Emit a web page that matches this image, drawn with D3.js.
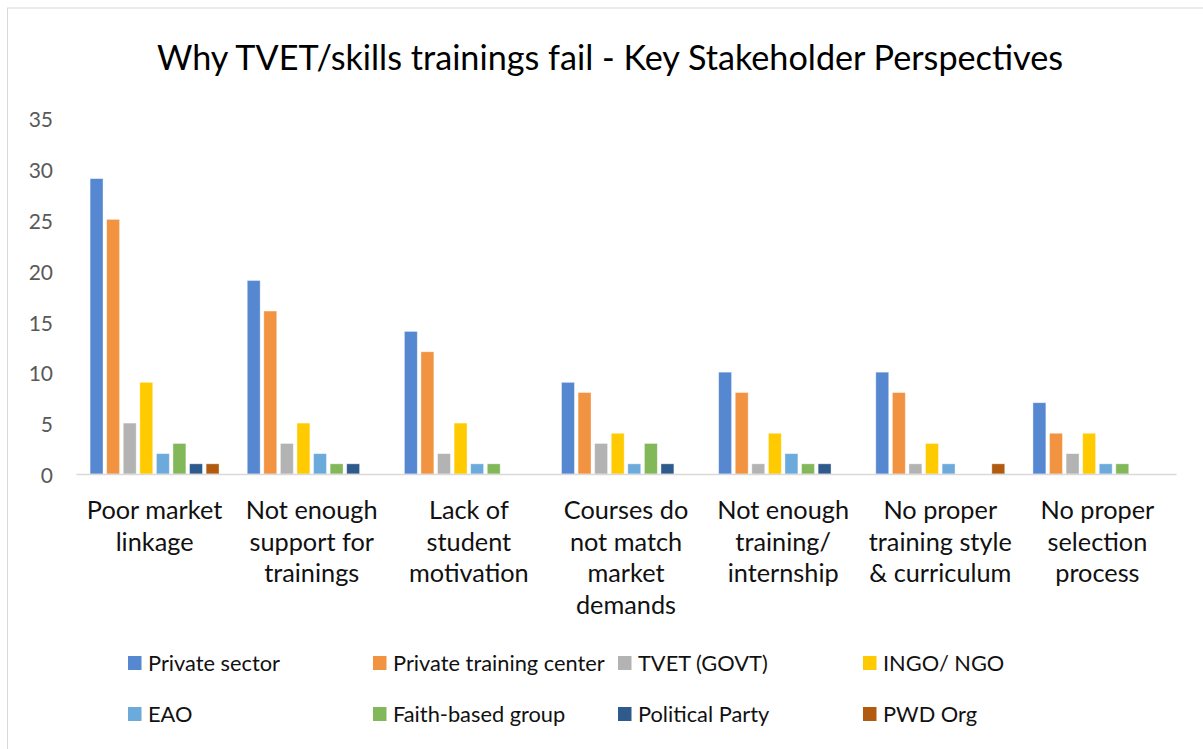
<!DOCTYPE html>
<html>
<head>
<meta charset="utf-8">
<script src="https://cdn.jsdelivr.net/npm/d3@7"></script>
<style>
  html, body { margin: 0; padding: 0; background: #fff; }
  svg { display: block; font-family: Lato, 'Open Sans', sans-serif; }
</style>
</head>
<body>
<svg id="chart" width="1203" height="749"></svg>
<script>
// ─── Data ─────────────────────────────────────────
const categories = [
  ['Poor market', 'linkage'],
  ['Not enough', 'support for', 'trainings'],
  ['Lack of', 'student', 'motivation'],
  ['Courses do', 'not match', 'market', 'demands'],
  ['Not enough', 'training/', 'internship'],
  ['No proper', 'training style', '& curriculum'],
  ['No proper', 'selection', 'process']
];
const seriesNames = ['Private sector', 'Private training center', 'TVET (GOVT)', 'INGO/ NGO',
  'EAO', 'Faith-based group', 'Political Party', 'PWD Org'];
const privateSector   = [29, 19, 14, 9, 10, 10, 7];
const privateTraining = [25, 16, 12, 8, 8, 8, 4];
const tvetGovt        = [5, 3, 2, 3, 1, 1, 2];
const ingoNgo         = [9, 5, 5, 4, 4, 3, 4];
const eao             = [2, 2, 1, 1, 2, 1, 1];
const faithBased      = [3, 1, 1, 3, 1, 0, 1];
const politicalParty  = [1, 1, 0, 1, 1, 0, 0];
const pwdOrg          = [1, 0, 0, 0, 0, 1, 0];
const yTicks = [0, 5, 10, 15, 20, 25, 30, 35];

const seriesValues = [privateSector, privateTraining, tvetGovt, ingoNgo, eao, faithBased, politicalParty, pwdOrg];
const colors = ['#5687d1', '#f29341', '#b3b3b3', '#ffca00', '#6daadc', '#83b85a', '#2f5a8c', '#b05b10'];

(function () {
  'use strict';
  const svg = d3.select('#chart');
  const catKeys = categories.map(function (c, i) { return i; });

  // chart border
  svg.append('rect')
    .attr('x', 7.5).attr('y', 8)
    .attr('width', 1220).attr('height', 760)
    .attr('fill', '#fff').attr('stroke', '#d9d9d9').attr('stroke-width', 1);

  // title
  svg.append('text')
    .attr('x', 610).attr('y', 70)
    .attr('text-anchor', 'middle')
    .attr('fill', '#000')
    .style('font-size', '34.2px')
    .text('Why TVET/skills trainings fail - Key Stakeholder Perspectives');

  // ─── Scales ───────────────────────────────────────
  const x0 = d3.scaleBand().domain(catKeys).range([76, 1176]);
  const x1 = d3.scaleBand().domain(d3.range(seriesNames.length))
    .range([0, x0.bandwidth()])
    .paddingInner(0.22).paddingOuter(0.85);
  const y = d3.scaleLinear().domain([0, 35]).range([474, 117.5]);

  // y tick labels (no gridlines in this chart)
  const yAxis = d3.axisLeft(y).tickValues(yTicks).tickSize(0).tickPadding(0);
  const gy = svg.append('g')
    .attr('transform', 'translate(53,0)')
    .call(yAxis);
  gy.select('.domain').remove();
  gy.selectAll('.tick text')
    .attr('fill', '#595959')
    .attr('dy', '0.42em')
    .style('font-family', 'Lato, sans-serif')
    .style('font-size', '21px');

  // ─── Bars ─────────────────────────────────────────
  const groups = svg.append('g').selectAll('g')
    .data(catKeys)
    .join('g')
    .attr('transform', function (d) { return 'translate(' + x0(d) + ',0)'; });

  groups.selectAll('rect')
    .data(function (ci) {
      return seriesValues.map(function (vals, si) { return { si: si, v: vals[ci] }; });
    })
    .join('rect')
    .filter(function (d) { return d.v > 0; })
    .attr('x', function (d) { return x1(d.si); })
    .attr('y', function (d) { return y(d.v); })
    .attr('width', x1.bandwidth())
    .attr('height', function (d) { return y(0) - y(d.v); })
    .attr('fill', function (d) { return colors[d.si]; })
    .attr('stroke', 'rgba(255,255,255,0.5)')
    .attr('stroke-width', 0.8);

  // x axis line
  const xAxis = d3.axisBottom(x0).tickSize(0).tickFormat('');
  const gx = svg.append('g')
    .attr('transform', 'translate(0,' + y(0) + ')')
    .call(xAxis);
  gx.select('.domain').attr('stroke', '#d9d9d9').attr('stroke-width', 1.5);

  // category labels
  const labels = svg.append('g').selectAll('text')
    .data(catKeys)
    .join('text')
    .attr('x', function (d) { return x0(d) + x0.bandwidth() / 2; })
    .attr('y', 519)
    .attr('text-anchor', 'middle')
    .attr('fill', '#111')
    .style('font-size', '25.3px');
  labels.selectAll('tspan')
    .data(function (d) { return categories[d]; })
    .join('tspan')
    .attr('x', function () { return d3.select(this.parentNode).attr('x'); })
    .attr('dy', function (d, i) { return i === 0 ? 0 : 31.7; })
    .text(function (d) { return d; });

  // ─── Legend ───────────────────────────────────────
  const legendX = [128, 373, 618, 863];
  const legendY = [663, 714];
  const legend = svg.append('g').selectAll('g')
    .data(seriesNames)
    .join('g')
    .attr('transform', function (d, i) {
      return 'translate(' + legendX[i % 4] + ',' + legendY[Math.floor(i / 4)] + ')';
    });
  legend.append('rect')
    .attr('x', 0).attr('y', -7)
    .attr('width', 13.5).attr('height', 14)
    .attr('fill', function (d, i) { return colors[i]; });
  legend.append('text')
    .attr('x', 20).attr('y', 0).attr('dy', '0.36em')
    .attr('fill', '#111')
    .style('font-size', '21.8px')
    .text(function (d) { return d; });
})();
</script>
</body>
</html>
